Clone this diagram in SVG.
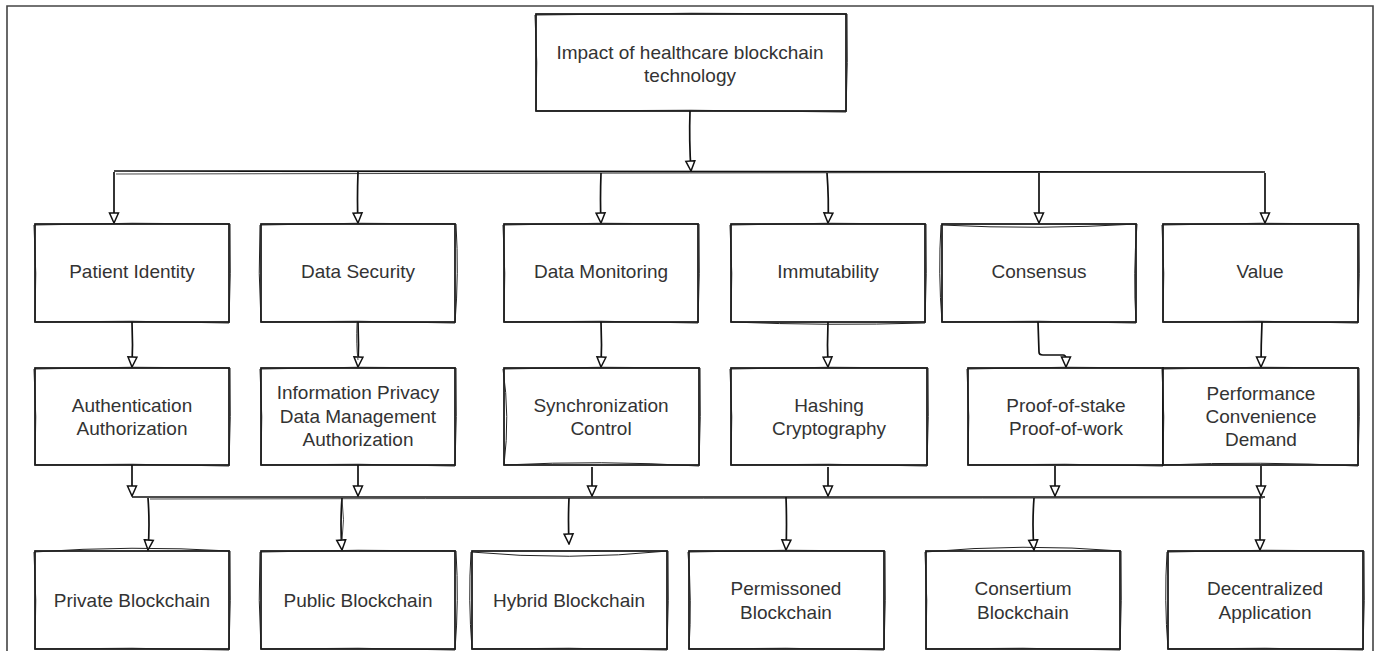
<svg xmlns="http://www.w3.org/2000/svg" width="1380" height="651" viewBox="0 0 1380 651">
<defs>
<style>
.box{fill:#fff;stroke:#111;stroke-width:1.7}
.sk{fill:none;stroke:#222;stroke-width:1}
.t{font-family:"Liberation Sans",Arial,sans-serif;font-size:19px;fill:#333;text-anchor:middle}
.c{fill:none;stroke:#111;stroke-width:1.7}
.c2{fill:none;stroke:#333;stroke-width:0.9}
</style>
<marker id="ah" viewBox="0 0 12 12" refX="11" refY="6" markerWidth="12" markerHeight="12" markerUnits="userSpaceOnUse" orient="auto">
<path d="M1,1.5 L11,6 L1,10.5 Z" fill="#fff" stroke="#111" stroke-width="1.5"/>
</marker>
</defs>
<rect width="1380" height="651" fill="#fff"/>
<path d="M7,651 V6 H1373 V651" fill="none" stroke="#444" stroke-width="1.6"/>

<g id="connectors">
<path class="c" d="M690,111 Q689,140 691,171" marker-end="url(#ah)"/>
<path class="c" d="M114,171 L1265,172"/>
<path class="c2" d="M116,174 Q690,173 1263,172"/>
<path class="c" d="M114,172 L114,223" marker-end="url(#ah)"/>
<path class="c" d="M358,172 Q357,200 358,223" marker-end="url(#ah)"/>
<path class="c" d="M601,173 Q600,200 601,223" marker-end="url(#ah)"/>
<path class="c" d="M827,173 Q829,200 828,223" marker-end="url(#ah)"/>
<path class="c" d="M1039,173 L1039,223" marker-end="url(#ah)"/>
<path class="c" d="M1265,173 L1265,223" marker-end="url(#ah)"/>

<path class="c" d="M132,322 Q133,345 132,367" marker-end="url(#ah)"/>
<path class="c" d="M358,322 Q359,345 358,367" marker-end="url(#ah)"/>
<path class="c2" d="M357,323 Q356,345 358,360"/>
<path class="c" d="M601,322 Q602,345 601,367" marker-end="url(#ah)"/>
<path class="c" d="M828,322 Q827,345 828,367" marker-end="url(#ah)"/>
<path class="c" d="M1038,322 L1039,352 Q1039,355 1043,355 L1063,355 Q1066,355 1066,359 L1066,367" marker-end="url(#ah)"/>
<path class="c" d="M1262,322 Q1261,345 1261,367" marker-end="url(#ah)"/>

<path class="c" d="M132,465 L132,496" marker-end="url(#ah)"/>
<path class="c" d="M358,465 L358,496" marker-end="url(#ah)"/>
<path class="c" d="M592,467 L592,496" marker-end="url(#ah)"/>
<path class="c" d="M828,467 L828,496" marker-end="url(#ah)"/>
<path class="c" d="M1055,466 L1055,496" marker-end="url(#ah)"/>
<path class="c" d="M1261,466 L1261,496" marker-end="url(#ah)"/>
<path class="c" d="M132,497 L1265,497"/>
<path class="c2" d="M150,499 Q700,498 1263,498"/>

<path class="c" d="M148,498 Q150,525 148,550" marker-end="url(#ah)"/>
<path class="c" d="M342,498 Q340,525 342,550" marker-end="url(#ah)"/>
<path class="c2" d="M342,499 Q345,520 342,540"/>
<path class="c" d="M569,498 Q568,520 569,544" marker-end="url(#ah)"/>
<path class="c" d="M786,497 Q787,525 786,550" marker-end="url(#ah)"/>
<path class="c" d="M1034,498 Q1032,525 1034,550" marker-end="url(#ah)"/>
<path class="c" d="M1260,497 L1260,550" marker-end="url(#ah)"/>
</g>

<g id="root">
<rect class="box" x="536" y="14" width="310" height="97"/>
<path class="sk" d="M535 15 Q691 12 847 14 Q848 62 846 112 Q691 109 536 111 Q538 62 535 15"/>
<text class="t" x="690" y="59">Impact of healthcare blockchain</text>
<text class="t" x="690" y="82">technology</text>
</g>

<g id="patient-identity">
<rect class="box" x="35" y="224" width="194" height="98"/>
<path class="sk" d="M34 225 Q132 222 230 224 Q231 273 229 323 Q132 320 35 322 Q37 273 34 225"/>
<text class="t" x="132" y="278">Patient Identity</text>
</g>
<g id="data-security">
<rect class="box" x="261" y="224" width="194" height="98"/>
<path class="sk" d="M260 225 Q358 222 456 224 Q459 273 455 323 Q358 320 261 322 Q258 273 260 225"/>
<text class="t" x="358" y="278">Data Security</text>
</g>
<g id="data-monitoring">
<rect class="box" x="504" y="224" width="194" height="98"/>
<path class="sk" d="M503 225 Q601 222 699 224 Q700 273 698 323 Q601 320 504 322 Q506 273 503 225"/>
<text class="t" x="601" y="278">Data Monitoring</text>
</g>
<g id="immutability">
<rect class="box" x="731" y="224" width="194" height="98"/>
<path class="sk" d="M730 225 Q828 222 926 224 Q927 273 925 323 Q828 326 731 322 Q733 273 730 225"/>
<text class="t" x="828" y="278">Immutability</text>
</g>
<g id="consensus">
<rect class="box" x="942" y="224" width="194" height="98"/>
<path class="sk" d="M941 225 Q1039 230 1137 224 Q1133 273 1136 323 Q1039 320 942 322 Q938 273 941 225"/>
<text class="t" x="1039" y="278">Consensus</text>
</g>
<g id="value">
<rect class="box" x="1163" y="224" width="195" height="98"/>
<path class="sk" d="M1162 225 Q1260 222 1359 224 Q1360 273 1358 323 Q1260 320 1163 322 Q1165 273 1162 225"/>
<text class="t" x="1260" y="278">Value</text>
</g>

<g id="authentication">
<rect class="box" x="35" y="368" width="194" height="97"/>
<path class="sk" d="M34 369 Q132 366 230 368 Q231 416 229 466 Q132 463 35 465 Q37 416 34 369"/>
<text class="t" x="132" y="412">Authentication</text>
<text class="t" x="132" y="435">Authorization</text>
</g>
<g id="information-privacy">
<rect class="box" x="261" y="368" width="194" height="97"/>
<path class="sk" d="M260 369 Q358 366 456 368 Q457 416 455 466 Q358 463 261 465 Q263 416 260 369"/>
<text class="t" x="358" y="399">Information Privacy</text>
<text class="t" x="358" y="423">Data Management</text>
<text class="t" x="358" y="446">Authorization</text>
</g>
<g id="synchronization">
<rect class="box" x="504" y="368" width="195" height="97"/>
<path class="sk" d="M503 369 Q601 366 700 368 Q701 416 699 466 Q601 460 504 465 Q510 416 503 369"/>
<text class="t" x="601" y="412">Synchronization</text>
<text class="t" x="601" y="435">Control</text>
</g>
<g id="hashing">
<rect class="box" x="731" y="368" width="196" height="97"/>
<path class="sk" d="M730 369 Q829 366 928 368 Q929 416 927 466 Q829 463 731 465 Q733 416 730 369"/>
<text class="t" x="829" y="412">Hashing</text>
<text class="t" x="829" y="435">Cryptography</text>
</g>
<g id="proof">
<rect class="box" x="968" y="368" width="195" height="97"/>
<path class="sk" d="M967 369 Q1065 366 1164 368 Q1165 416 1163 466 Q1065 463 968 465 Q970 416 967 369"/>
<text class="t" x="1066" y="412">Proof-of-stake</text>
<text class="t" x="1066" y="435">Proof-of-work</text>
</g>
<g id="performance">
<rect class="box" x="1163" y="368" width="195" height="97"/>
<path class="sk" d="M1162 369 Q1260 366 1359 368 Q1360 416 1358 466 Q1260 461 1163 465 Q1165 416 1162 369"/>
<text class="t" x="1261" y="400">Performance</text>
<text class="t" x="1261" y="423">Convenience</text>
<text class="t" x="1261" y="446">Demand</text>
</g>

<g id="private-blockchain">
<rect class="box" x="35" y="551" width="194" height="98"/>
<path class="sk" d="M34 552 Q132 545 230 551 Q231 600 229 650 Q132 647 35 649 Q37 600 34 552"/>
<text class="t" x="132" y="607">Private Blockchain</text>
</g>
<g id="public-blockchain">
<rect class="box" x="261" y="551" width="194" height="98"/>
<path class="sk" d="M260 552 Q358 549 456 551 Q459 600 455 650 Q358 647 261 649 Q258 600 260 552"/>
<text class="t" x="358" y="607">Public Blockchain</text>
</g>
<g id="hybrid-blockchain">
<rect class="box" x="472" y="551" width="195" height="98"/>
<path class="sk" d="M471 552 Q569 561 668 551 Q669 600 667 650 Q569 647 472 649 Q468 600 471 552"/>
<text class="t" x="569" y="607">Hybrid Blockchain</text>
</g>
<g id="permissoned-blockchain">
<rect class="box" x="689" y="551" width="195" height="98"/>
<path class="sk" d="M688 552 Q786 549 885 551 Q886 600 884 650 Q786 647 689 649 Q692 600 688 552"/>
<text class="t" x="786" y="595">Permissoned</text>
<text class="t" x="786" y="619">Blockchain</text>
</g>
<g id="consertium-blockchain">
<rect class="box" x="926" y="551" width="194" height="98"/>
<path class="sk" d="M925 552 Q1023 543 1121 551 Q1122 600 1120 650 Q1023 647 926 649 Q928 600 925 552"/>
<text class="t" x="1023" y="595">Consertium</text>
<text class="t" x="1023" y="619">Blockchain</text>
</g>
<g id="decentralized-application">
<rect class="box" x="1168" y="551" width="195" height="98"/>
<path class="sk" d="M1167 552 Q1265 549 1364 551 Q1365 600 1363 650 Q1265 647 1168 649 Q1164 600 1167 552"/>
<text class="t" x="1265" y="595">Decentralized</text>
<text class="t" x="1265" y="619">Application</text>
</g>
</svg>
